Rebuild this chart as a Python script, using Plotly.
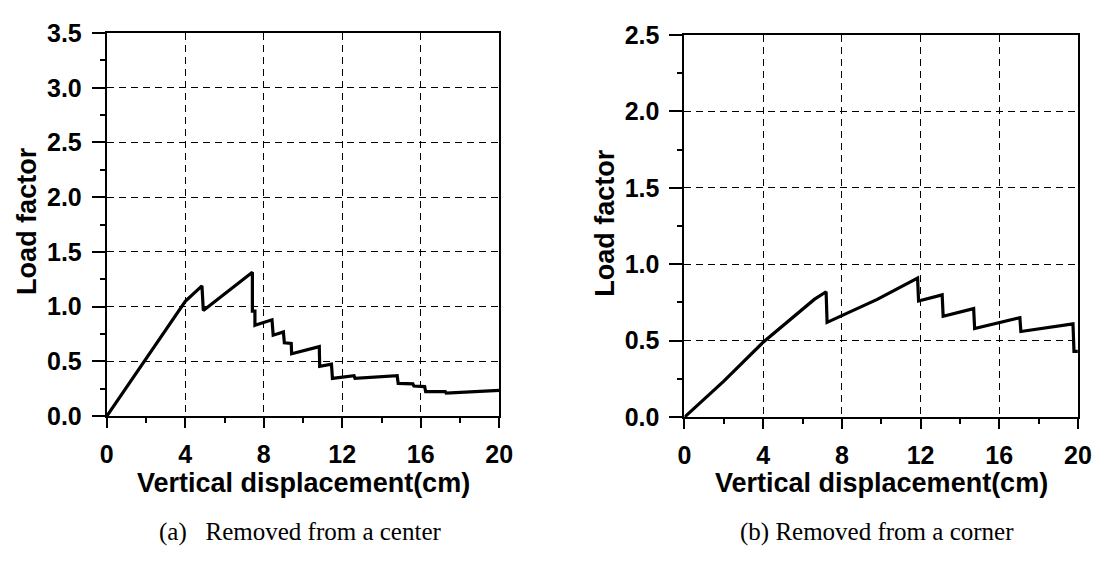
import plotly.graph_objects as go

# ---- data ----
center_x = [0, 1.92, 4.0, 4.85, 4.92, 7.42, 7.42, 7.55, 7.55, 8.42, 8.48, 9.0, 9.05, 9.4, 9.42,
            10.83, 10.85, 11.45, 11.5, 12.6, 12.65, 14.8, 14.85, 15.6, 15.65, 16.2, 16.25,
            17.25, 17.3, 20]
center_y = [0, 0.50, 1.05, 1.19, 0.965, 1.315, 0.96, 0.96, 0.83, 0.88, 0.74, 0.77, 0.67, 0.665,
            0.57, 0.635, 0.455, 0.475, 0.345, 0.37, 0.345, 0.37, 0.30, 0.295, 0.275, 0.27,
            0.225, 0.225, 0.21, 0.235]

corner_x = [0, 2.0, 4.0, 6.6, 7.2, 7.25, 9.8, 11.85, 11.9, 13.1, 13.15, 14.7, 14.75,
            17.05, 17.1, 19.75, 19.8, 20]
corner_y = [0, 0.235, 0.49, 0.77, 0.82, 0.62, 0.77, 0.91, 0.76, 0.80, 0.66, 0.71, 0.58,
            0.65, 0.56, 0.61, 0.43, 0.43]

x_ticks = [0, 4, 8, 12, 16, 20]
y_ticks_left = [0, 0.5, 1.0, 1.5, 2.0, 2.5, 3.0, 3.5]
y_ticks_right = [0, 0.5, 1.0, 1.5, 2.0, 2.5]

x_title = "Vertical displacement(cm)"
y_title = "Load factor"
captions = ["(a)&nbsp;&nbsp; Removed from a center", "(b) Removed from a corner"]

W, H = 1113, 569
fig = go.Figure()
fig.add_trace(go.Scatter(x=center_x, y=center_y, mode="lines",
                         line=dict(color="black", width=3.2), xaxis="x", yaxis="y",
                         showlegend=False))
fig.add_trace(go.Scatter(x=corner_x, y=corner_y, mode="lines",
                         line=dict(color="black", width=3.2), xaxis="x2", yaxis="y2",
                         showlegend=False))

tickfont = dict(family="Liberation Sans, Arial", size=25, color="black", weight="bold")
GRID_DASH = "7px,5px"

def xaxis(domain, anchor):
    return dict(domain=domain, anchor=anchor, range=[0, 20], tickvals=x_ticks,
                ticks="outside", ticklen=10, tickwidth=2, tickcolor="black",
                showline=True, linecolor="black", linewidth=2, mirror=True,
                showgrid=True, gridcolor="black", gridwidth=1, griddash=GRID_DASH,
                zeroline=False, tickfont=tickfont, ticklabelstandoff=5,
                minor=dict(dtick=2, ticks="outside", ticklen=5, tickwidth=1.5,
                           tickcolor="black", showgrid=False))

def yaxis(domain, anchor, top, vals):
    return dict(domain=domain, anchor=anchor, range=[0, top], tickvals=vals,
                tickformat=".1f",
                ticks="outside", ticklen=13, tickwidth=2, tickcolor="black",
                showline=True, linecolor="black", linewidth=2, mirror=True,
                showgrid=True, gridcolor="black", gridwidth=1, griddash=GRID_DASH,
                zeroline=False, tickfont=tickfont, ticklabelstandoff=5,
                minor=dict(dtick=0.25, ticks="outside", ticklen=5, tickwidth=1.5,
                           tickcolor="black", showgrid=False))

lx = [101.7 / W, 501.7 / W]
rx = [690.5 / W, 1091.5 / W]
ly = [1 - 423 / H, 1 - 20 / H]
ry = [1 - 424 / H, 1 - 22 / H]

titlefont = dict(family="Liberation Sans, Arial", size=27, color="black", weight="bold")
capfont = dict(family="Liberation Serif, Times New Roman", size=25, color="black")

annotations = [
    dict(text=x_title, x=sum(lx) / 2, y=1 - 493 / H, xref="paper", yref="paper",
         showarrow=False, font=titlefont, xanchor="center", yanchor="middle"),
    dict(text=x_title, x=sum(rx) / 2, y=1 - 493 / H, xref="paper", yref="paper",
         showarrow=False, font=titlefont, xanchor="center", yanchor="middle"),
    dict(text=y_title, x=21 / W, y=1 - 218 / H, xref="paper", yref="paper",
         showarrow=False, font=titlefont, textangle=-90, xanchor="center", yanchor="middle"),
    dict(text=y_title, x=610 / W, y=1 - 219 / H, xref="paper", yref="paper",
         showarrow=False, font=titlefont, textangle=-90, xanchor="center", yanchor="middle"),
    dict(text=captions[0], x=299 / W, y=1 - 545 / H, xref="paper", yref="paper",
         showarrow=False, font=capfont, xanchor="center", yanchor="middle"),
    dict(text=captions[1], x=887 / W, y=1 - 545 / H, xref="paper", yref="paper",
         showarrow=False, font=capfont, xanchor="center", yanchor="middle"),
]

fig.update_layout(
    width=W, height=H, margin=dict(l=0, r=0, t=0, b=0),
    paper_bgcolor="white", plot_bgcolor="white",
    xaxis=xaxis(lx, "y"), yaxis=yaxis(ly, "x", 3.5, y_ticks_left),
    xaxis2=xaxis(rx, "y2"), yaxis2=yaxis(ry, "x2", 2.5, y_ticks_right),
    annotations=annotations,
)

fig.write_html("out.html")
